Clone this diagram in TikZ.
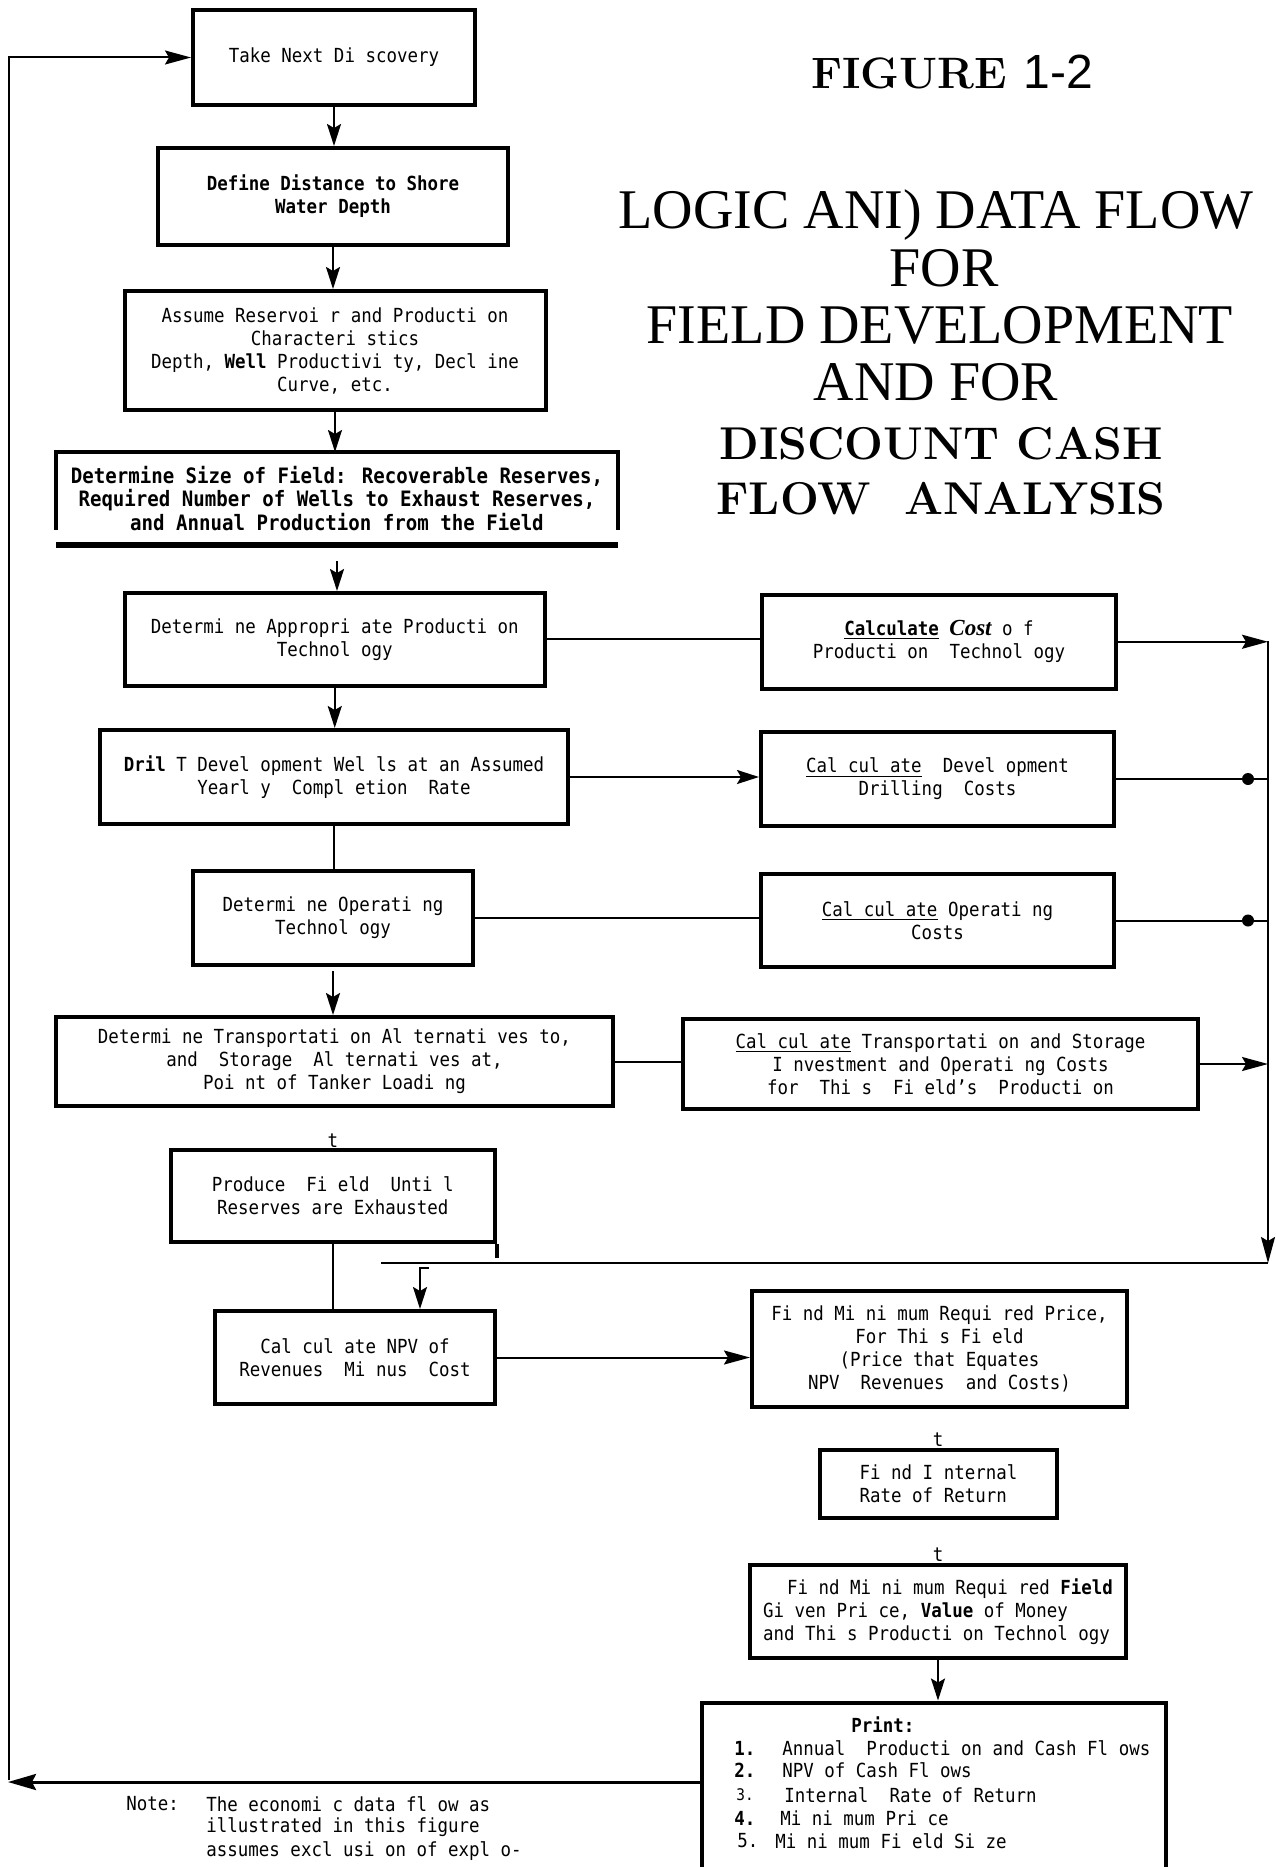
\documentclass[tikz,border=0pt]{standalone}
\usepackage{fontspec}
\usetikzlibrary{arrows.meta}
\newfontfamily\monof[FakeStretch=0.9]{DejaVu Sans Mono}
\newfontfamily\timesf{Liberation Serif}
\newfontfamily\arialf{Liberation Sans}
\newcommand\bxf{\monof\fontsize{9.7}{11.5}\selectfont}
\newcommand\sizef{\monof\bfseries\fontsize{10.6}{11.8}\selectfont}
\newcommand\titf{\timesf\fontsize{28}{30}\selectfont}
\newcommand\lmtitf{\bfseries\fontsize{23}{30}\selectfont\addfontfeatures{LetterSpace=1}}
\newcommand\figf{\bfseries\fontsize{22}{28}\selectfont}
\newcommand\costf{\timesf\bfseries\itshape\fontsize{11.5}{11.5}\selectfont}
\tikzset{
 bx/.style={draw, line width=2pt, rectangle, inner sep=0pt, align=center, font=\bxf},
 conn/.style={line width=1pt},
 arr/.style={line width=1pt, -{Stealth[length=11pt,width=7pt,inset=2pt]}},
 arrl/.style={line width=1pt, -{Stealth[length=13pt,width=7pt,inset=2pt]}},
 lbl/.style={font=\bxf, inner sep=0pt},
 ttl/.style={anchor=base, inner sep=0pt},
 dotnode/.style={circle, fill, inner sep=0pt, minimum size=6pt},
}
\begin{document}
\begin{tikzpicture}[x=0.5pt,y=-0.5pt]
\useasboundingbox (0,0) rectangle (1275,1867);
\clip (0,0) rectangle (1275,1867);
\fill[white] (0,0) rectangle (1275,1867);

% ---------- title ----------
\node[ttl, font=\figf] (fig) at (952,89) {FIGURE {\mdseries\arialf\fontsize{24}{28}\selectfont 1-2}};
\node[ttl, font=\titf] (ti1) at (936,228.5) {LOGIC ANI) DATA FLOW};
\node[ttl, font=\titf] (ti2) at (944,286) {FOR};
\node[ttl, font=\titf] (ti3) at (940,343) {FIELD DEVELOPMENT};
\node[ttl, font=\titf] (ti4) at (936,400) {AND FOR};
\node[ttl, font=\lmtitf] (ti5) at (941,459) {DISCOUNT CASH};
\node[ttl, font=\lmtitf] (ti6) at (941,514) {FLOW\hspace{8pt} ANALYSIS};

% ---------- left column ----------
\node[bx, minimum width=141pt, minimum height=47.5pt] (take) at (334,57.5) {Take Next Di scovery};
\node[bx, minimum width=175pt, minimum height=48.5pt, font=\bxf\bfseries] (define) at (333,196.5) {Define Distance to Shore\\Water Depth};
\node[bx, minimum width=210.5pt, minimum height=59.5pt] (assume) at (335,350.5) {Assume Reservoi r and Producti on\\Characteri stics\\Depth, {\bfseries Well} Productivi ty, Decl ine\\Curve, etc.};
\node[bx, draw=none, minimum width=279pt, minimum height=44.5pt, font=\sizef] (size) at (337,498.5) {Determine Size of Field: Recoverable Reserves,\\Required Number of Wells to Exhaust Reserves,\\and Annual Production from the Field};
\draw[line width=2pt] ([yshift=7.5pt]size.south west) -- (size.north west) -- (size.north east) -- ([yshift=7.5pt]size.south east);
\draw[line width=3pt] (size.south west) -- (size.south east);
\node[bx, minimum width=210.25pt, minimum height=46.25pt] (approp) at (334.75,639.25) {Determi ne Appropri ate Producti on\\Technol ogy};
\node[bx, minimum width=234pt, minimum height=47pt] (drill) at (334,777) {{\bfseries Dril} T Devel opment Wel ls at an Assumed\\Yearl y~~Compl etion~~Rate};
\node[bx, minimum width=140pt, minimum height=47pt] (optech) at (333,918) {Determi ne Operati ng\\Technol ogy};
\node[bx, minimum width=278.5pt, minimum height=44.5pt] (transalt) at (334.5,1061.5) {Determi ne Transportati on Al ternati ves to,\\and~~Storage~~Al ternati ves at,\\Poi nt of Tanker Loadi ng};
\node[lbl] (t1) at (333,1141) {t};
\node[bx, minimum width=162.25pt, minimum height=46pt] (produce) at (332.75,1196) {Produce~~Fi eld~~Unti l\\Reserves are Exhausted};
\draw[line width=2pt] (produce.south east) -- ++(0,14);
\node[bx, minimum width=140pt, minimum height=46.5pt] (npv) at (355,1357.5) {Cal cul ate NPV of\\Revenues~~Mi nus~~Cost};

% ---------- right column ----------
\node[bx, minimum width=177pt, minimum height=46.75pt] (costprod) at (939,641.75) {\underline{\bfseries Calculate} {\costf Cost} o f\\Producti on~~Technol ogy};
\node[bx, minimum width=176.5pt, minimum height=47pt] (devcost) at (937.5,779) {\underline{Cal cul ate}~~Devel opment\\Drilling~~Costs};
\node[bx, minimum width=176.5pt, minimum height=46.5pt] (opcost) at (937.5,920.5) {\underline{Cal cul ate} Operati ng\\Costs};
\node[bx, minimum width=257.5pt, minimum height=45pt] (transcost) at (940.5,1064) {\underline{Cal cul ate} Transportati on and Storage\\I nvestment and Operati ng Costs\\for~~Thi s~~Fi eld’s~~Producti on};
\node[bx, minimum width=187.5pt, minimum height=58pt] (minprice) at (939.5,1349) {Fi nd Mi ni mum Requi red Price,\\For Thi s Fi eld\\(Price that Equates\\NPV~~Revenues~~and Costs)};
\node[lbl] (t2) at (938,1440) {t};
\node[bx, minimum width=118.5pt, minimum height=34pt, align=left] (irr) at (938.5,1484) {Fi nd I nternal\\Rate of Return};
\node[lbl] (t3) at (938,1555) {t};
\node[bx, minimum width=188pt, minimum height=46.5pt, align=left] (minfield) at (938,1611.5) {\hspace*{12pt}Fi nd Mi ni mum Requi red {\bfseries Field}\\Gi ven Pri ce, {\bfseries Value} of Money\\and Thi s Producti on Technol ogy};
\node[bx, minimum width=232.25pt, minimum height=98.75pt] (print) at (933.75,1801.25) {};
\node[lbl, anchor=west, font=\bxf\bfseries] (pr0) at (851,1725) {Print:};
\node[lbl, anchor=west, font=\bxf\bfseries] (pn1) at (734,1748) {1.};
\node[lbl, anchor=west] (pr1) at (782,1748) {Annual~~Producti on and Cash Fl ows};
\node[lbl, anchor=west, font=\bxf\bfseries] (pn2) at (734,1770) {2.};
\node[lbl, anchor=west] (pr2) at (782,1770) {NPV of Cash Fl ows};
\node[lbl, anchor=west, font=\monof\fontsize{8}{10}\selectfont] (pn3) at (736,1795) {3.};
\node[lbl, anchor=west] (pr3) at (784,1795) {Internal~~Rate of Return};
\node[lbl, anchor=west, font=\bxf\bfseries] (pn4) at (734,1818) {4.};
\node[lbl, anchor=west] (pr4) at (780,1818) {Mi ni mum Pri ce};
\node[lbl, anchor=west] (pn5) at (737,1841) {5.};
\node[lbl, anchor=west] (pr5) at (775,1841) {Mi ni mum Fi eld Si ze};

% ---------- note ----------
\node[lbl, anchor=west] (note0) at (126,1804) {Note:};
\node[lbl, anchor=west] (note1) at (206,1804) {The economi c data fl ow as};
\node[lbl, anchor=west] (note2) at (206,1827) {illustrated in this figure};
\node[lbl, anchor=west] (note3) at (206,1851) {assumes excl usi on of expl o-};

% ---------- coordinates ----------
\coordinate (bustop) at (1268,641);
\coordinate (busbot) at (1268,1263);
\coordinate (busleft) at (381,1263);
\coordinate (hook) at (429,1268);
\coordinate (hookc) at (420,1268);
\coordinate (lb) at (8,1782);
\coordinate (lt) at (9,57.5);
\node[dotnode] (d1) at (1248,779) {};
\node[dotnode] (d2) at (1248,920.5) {};

% ---------- connectors: left column ----------
\draw[arr] (take.south) -- (take.south |- define.north);
\draw[arr] (define.south) -- (define.south |- assume.north);
\draw[arr] (assume.south) -- (assume.south |- size.north);
\draw[arr] ([yshift=-8pt]size.south) -- (size.south |- approp.north);
\draw[arr] (approp.south) -- (approp.south |- drill.north);
\draw[conn] (drill.south) -- (drill.south |- optech.north);
\draw[arr] ([yshift=-2pt]optech.south) -- (optech.south |- transalt.north);
\draw[conn] (produce.south) -- (produce.south |- npv.north);

% ---------- connectors: across ----------
\draw[conn] (approp.east) -- (approp.east -| costprod.west);
\draw[arr] (drill.east) -- (drill.east -| devcost.west);
\draw[conn] (optech.east) -- (optech.east -| opcost.west);
\draw[conn] (transalt.east) -- (transalt.east -| transcost.west);

% ---------- bus ----------
\draw[arrl] (costprod.east) -- (costprod.east -| bustop);
\draw[conn] (devcost.east) -- (d1) -- (d1 -| bustop);
\draw[conn] (opcost.east) -- (d2) -- (d2 -| bustop);
\draw[arrl] (transcost.east) -- (transcost.east -| bustop);
\draw[arrl] (bustop) -- (busbot);
\draw[conn] (busbot) -- (busleft);
\draw[arr] (hook) -- (hookc) -- (hookc |- npv.north);

% ---------- bottom ----------
\draw[arrl] (npv.east) -- (npv.east -| minprice.west);
\draw[arr] (minfield.south) -- (minfield.south |- print.north);
\draw[line width=1.5pt, -{Stealth[length=14pt,width=8pt,inset=2pt]}] (print.west |- lb) -- (lb);
\draw[arrl] ([yshift=1pt]lt |- lb) -- (lt) -- (take.west);
\end{tikzpicture}
\end{document}
